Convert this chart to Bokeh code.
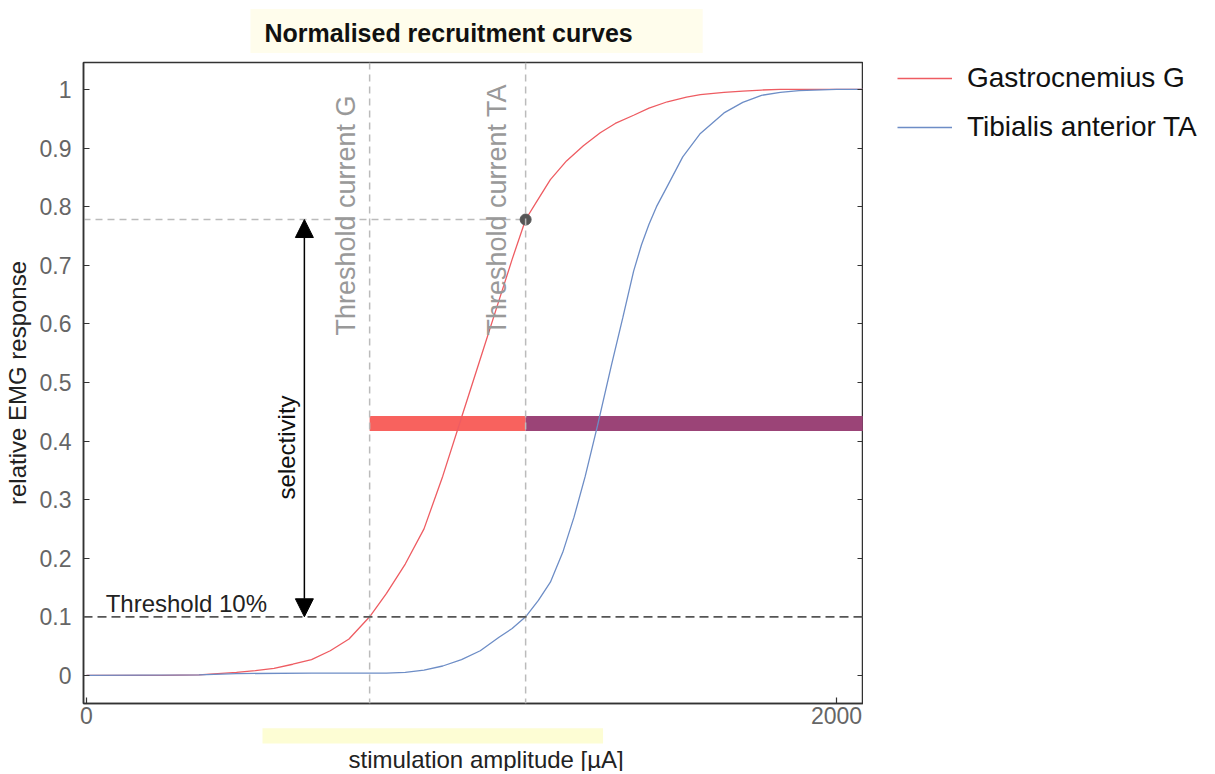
import math
from bokeh.plotting import figure
from bokeh.layouts import row
from bokeh.models import (Range1d, FixedTicker, LinearAxis, Legend, LegendItem,
                          Span, Arrow, NormalHead, Title, CustomJSTickFormatter)
from bokeh.core.properties import value
from bokeh.embed import file_html
from bokeh.resources import INLINE

FONT = "Liberation Sans"

# stimulation amplitude [uA] and normalised EMG response of each muscle
amp_g = [0, 200, 300, 350, 400, 450, 500, 550, 600, 650, 700, 755, 800, 850, 900,
         950, 1000, 1050, 1100, 1135, 1171, 1200, 1237, 1280, 1325, 1370, 1410,
         1459, 1500, 1549, 1600, 1637, 1700, 1750, 1800, 1850, 2072]
resp_g = [0.000, 0.000, 0.001, 0.003, 0.005, 0.008, 0.012, 0.019, 0.027, 0.042,
          0.062, 0.100, 0.140, 0.190, 0.250, 0.340, 0.440, 0.540, 0.640, 0.710,
          0.778, 0.808, 0.846, 0.878, 0.904, 0.926, 0.942, 0.956, 0.968, 0.979,
          0.987, 0.991, 0.995, 0.997, 0.999, 1.000, 1.000]

amp_ta = [0, 300, 400, 600, 800, 850, 900, 950, 1000, 1050, 1100, 1135, 1171,
          1205, 1237, 1270, 1300, 1330, 1363, 1400, 1430, 1459, 1480, 1500, 1520,
          1549, 1590, 1637, 1700, 1750, 1800, 1850, 1900, 2000, 2072]
resp_ta = [0.000, 0.001, 0.003, 0.004, 0.004, 0.005, 0.009, 0.016, 0.027, 0.042,
           0.065, 0.080, 0.100, 0.128, 0.159, 0.210, 0.270, 0.340, 0.427, 0.530,
           0.610, 0.690, 0.735, 0.770, 0.800, 0.835, 0.885, 0.925, 0.960, 0.978,
           0.990, 0.995, 0.998, 1.000, 1.000]

series_names = ["Gastrocnemius G", "Tibialis anterior TA"]
series_colors = ["#ee5c62", "#6d8dc6"]

threshold_level = 0.1
threshold_g = 755
threshold_ta = 1171
selectivity_level = 0.778
window_level = 0.43

x_ticks = [0, 2000]
y_ticks = [0, 0.1, 0.2, 0.3, 0.4, 0.5, 0.6, 0.7, 0.8, 0.9, 1]

x_lo, x_hi = -8, 2072
y_lo, y_hi = -0.048, 1.046

p = figure(frame_width=780, frame_height=641, output_backend="svg",
           toolbar_location=None,
           x_range=Range1d(x_lo, x_hi), y_range=Range1d(y_lo, y_hi),
           min_border_left=83, min_border_right=0, min_border_top=60,
           min_border_bottom=0, background_fill_color="white",
           border_fill_color="white")
p.grid.visible = False
p.outline_line_color = "#333333"
p.outline_line_width = 1.5

# title on a faint cream band
p.title.text = "Normalised recruitment curves"
p.title.text_font = FONT
p.title.text_font_size = "25px"
p.title.text_font_style = "bold"
p.title.text_color = "#111111"
p.title.align = "left"
p.title.vertical_align = "top"
p.title.offset = 167
p.title.standoff = 15
p.title.background_fill_color = "#fffdec"
p.title.padding = dict(left=14, right=70, top=10, bottom=6)

# axes
for ax in (p.xaxis[0], p.yaxis[0]):
    ax.major_tick_in = 6
    ax.major_tick_out = 0
    ax.minor_tick_line_color = None
    ax.axis_line_color = "#333333"
    ax.axis_line_width = 1.5
    ax.major_tick_line_color = "#333333"
    ax.major_tick_line_width = 1.2
    ax.major_label_text_font = FONT
    ax.major_label_text_font_size = "23px"
    ax.major_label_text_color = "#666666"
    ax.axis_label_text_font = FONT
    ax.axis_label_text_font_style = "normal"
    ax.axis_label_text_color = "#222222"

p.xaxis.ticker = FixedTicker(ticks=x_ticks)
p.xaxis.major_label_standoff = 3

p.yaxis.ticker = FixedTicker(ticks=y_ticks)
p.yaxis.major_label_overrides = {0: "0", 1: "1"}
p.yaxis.axis_label = "relative EMG response"
p.yaxis.axis_label_text_font_size = "24px"
p.yaxis.major_label_standoff = 12
p.yaxis.axis_label_standoff = 6

# cream band under the tick labels, then the x-axis title
p.add_layout(Title(text=" ", text_font_size="2px", align="left", offset=179,
                   standoff=0, background_fill_color="#fdfdd4",
                   padding=dict(left=0, right=340, top=7, bottom=6)), "below")
p.add_layout(Title(text="stimulation amplitude [µA]", text_font=FONT,
                   text_font_size="24px", text_font_style="normal",
                   text_color="#222222", align="left", offset=265, standoff=0),
             "below")

# right-hand box edge carries the same ticks without labels
right_ax = LinearAxis(ticker=FixedTicker(ticks=y_ticks), major_tick_in=6,
                      major_tick_out=0, minor_tick_line_color=None,
                      axis_line_color="#333333", axis_line_width=1.5,
                      major_tick_line_color="#333333",
                      formatter=CustomJSTickFormatter(code="return ''"),
                      major_label_standoff=0)
p.add_layout(right_ax, "right")

# threshold guides
p.add_layout(Span(location=threshold_g, dimension="height", line_color="#bbbbbb",
                  line_dash="7 5", line_width=1.5))
p.add_layout(Span(location=threshold_ta, dimension="height", line_color="#bbbbbb",
                  line_dash="7 5", line_width=1.5))
p.segment(x0=[x_lo], y0=[selectivity_level], x1=[threshold_ta], y1=[selectivity_level],
          line_color="#bbbbbb", line_dash="7 5", line_width=1.5)
p.add_layout(Span(location=threshold_level, dimension="width", line_color="#555555",
                  line_dash="9 5", line_width=1.8))

# recruitment window bars
p.segment(x0=[threshold_g], y0=[window_level], x1=[threshold_ta], y1=[window_level],
          line_color="#f8625e", line_width=15, line_cap="butt")
p.segment(x0=[threshold_ta], y0=[window_level], x1=[x_hi], y1=[window_level],
          line_color="#9b4477", line_width=15, line_cap="butt")

# curves
p.line(amp_g, resp_g, line_color=series_colors[0], line_width=1.3)
p.line(amp_ta, resp_ta, line_color=series_colors[1], line_width=1.3)

p.scatter(x=[threshold_ta], y=[selectivity_level], size=11, color="#555555")

# selectivity arrow
p.add_layout(Arrow(start=NormalHead(size=18, fill_color="black", line_color="black"),
                   end=NormalHead(size=18, fill_color="black", line_color="black"),
                   x_start=581, y_start=threshold_level, x_end=581, y_end=selectivity_level,
                   line_color="black", line_width=1.5))

p.text(x=[533], y=[0.389], text=["selectivity"], angle=math.pi / 2,
       text_align="center", text_baseline="middle", text_font=value(FONT),
       text_font_size="24px", text_color="#111111")
p.text(x=[692, 1095], y=[0.58, 0.58], text=["Threshold current G", "Threshold current TA"],
       angle=math.pi / 2, text_align="left", text_baseline="alphabetic",
       text_font=value(FONT), text_font_size="27px", text_color="#999999")
p.text(x=[51], y=[0.122], text=["Threshold 10%"], text_align="left",
       text_baseline="alphabetic", text_font=value(FONT), text_font_size="24px",
       text_color="#222222")

# legend panel to the right of the box; its key lines sit outside the view
lg = figure(width=348, height=774, output_backend="svg", toolbar_location=None,
            x_range=Range1d(0, 1), y_range=Range1d(0, 1), min_border=0,
            min_border_left=34, min_border_top=62,
            background_fill_color="white", border_fill_color="white")
lg.axis.visible = False
lg.grid.visible = False
lg.outline_line_color = None
items = []
for name, color in zip(series_names, series_colors):
    r = lg.line(x=[-2, -1], y=[-2, -2], line_color=color, line_width=1.3)
    items.append(LegendItem(label=name, renderers=[r]))
lg.add_layout(Legend(items=items, location="top_left", margin=0, padding=7, spacing=17,
                     glyph_width=55, glyph_height=30, label_standoff=15,
                     label_text_font=FONT, label_text_font_size="28px",
                     label_text_color="#111111", border_line_color=None,
                     background_fill_alpha=0), "center")

layout = row(p, lg, spacing=0)
open("out.html", "w").write(file_html(layout, INLINE))
